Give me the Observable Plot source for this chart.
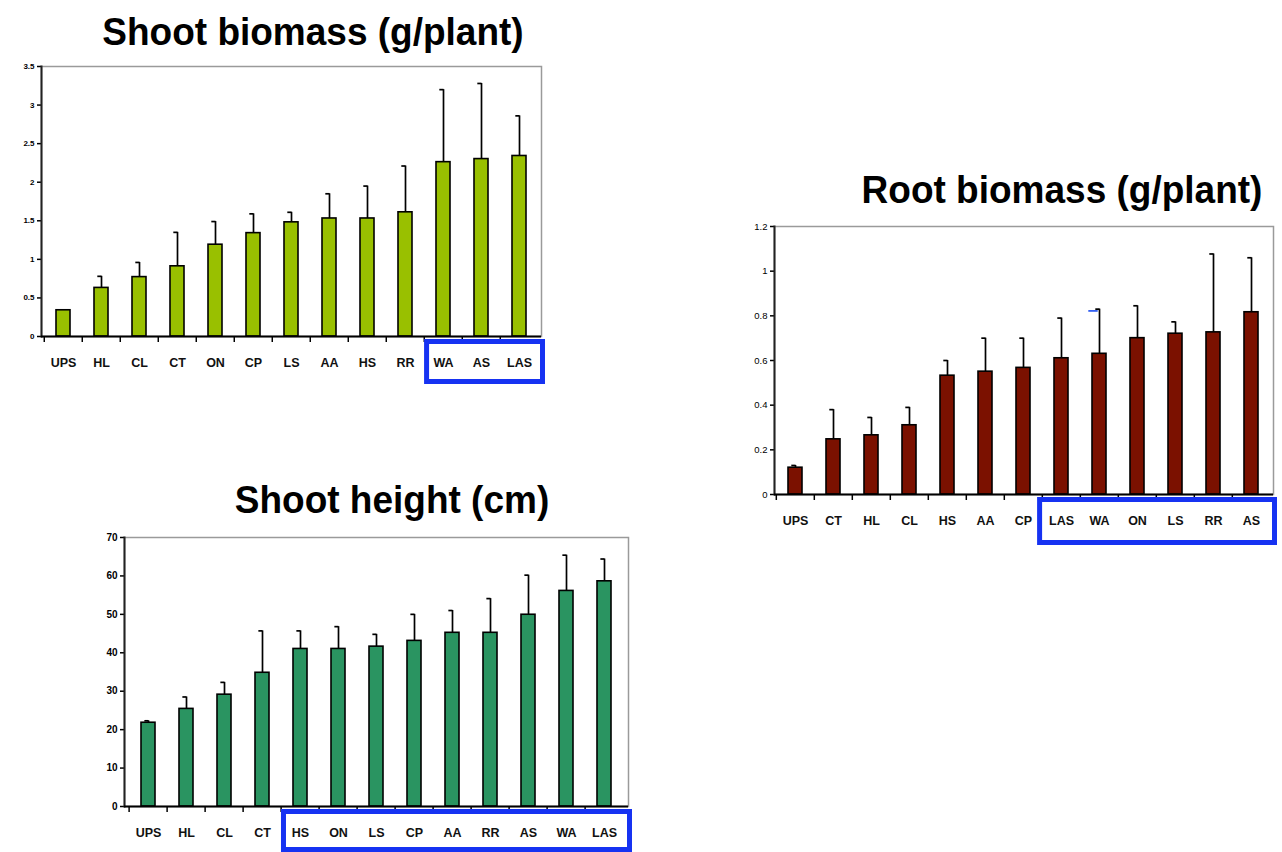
<!DOCTYPE html>
<html><head><meta charset="utf-8">
<script src="https://cdn.jsdelivr.net/npm/d3@7"></script>
<script src="https://cdn.jsdelivr.net/npm/@observablehq/plot@0.6"></script>
<style>
body{margin:0;background:#fff;width:1282px;height:852px;overflow:hidden;position:relative;font-family:"Liberation Sans",Arial,sans-serif;}
.title{position:absolute;font-weight:bold;font-size:37px;line-height:37px;white-space:nowrap;transform:translateX(-50%) scaleY(1.06);color:#000;}
.chart{position:absolute;}
</style></head><body>
<script>
// Shoot biomass (g/plant)
const shootBioCats = ["UPS","HL","CL","CT","ON","CP","LS","AA","HS","RR","WA","AS","LAS"];
const shootBioMean = [0.34,0.63,0.77,0.91,1.19,1.34,1.48,1.53,1.53,1.61,2.26,2.30,2.34];
const shootBioTop  = [0.34,0.78,0.96,1.35,1.49,1.59,1.61,1.85,1.95,2.21,3.20,3.28,2.86];
const shootBioTicks = [0,0.5,1,1.5,2,2.5,3,3.5];
const shootBioBoxed = ["WA","AS","LAS"];

// Root biomass (g/plant)
const rootBioCats = ["UPS","CT","HL","CL","HS","AA","CP","LAS","WA","ON","LS","RR","AS"];
const rootBioMean = [0.12,0.247,0.265,0.31,0.532,0.55,0.567,0.61,0.63,0.70,0.72,0.726,0.816];
const rootBioTop  = [0.13,0.38,0.345,0.39,0.60,0.70,0.70,0.79,0.83,0.845,0.773,1.077,1.06];
const rootBioTicks = [0,0.2,0.4,0.6,0.8,1,1.2];
const rootBioBoxed = ["LAS","WA","ON","LS","RR","AS"];
const rootBioStray = [{cat:"WA", y:0.822}];

// Shoot height (cm)
const heightCats = ["UPS","HL","CL","CT","HS","ON","LS","CP","AA","RR","AS","WA","LAS"];
const heightMean = [21.8,25.4,29.1,34.8,41.0,41.0,41.6,43.1,45.2,45.2,49.9,56.1,58.6];
const heightTop  = [22.3,28.5,32.3,45.7,45.7,46.8,44.8,50.0,51.0,54.1,60.2,65.4,64.4];
const heightTicks = [0,10,20,30,40,50,60,70];
const heightBoxed = ["HS","ON","LS","CP","AA","RR","AS","WA","LAS"];

function drawChart(cfg){
  const n = cfg.cats.length;
  const W = cfg.width - cfg.ml - cfg.mr;
  const step = W / n;
  const pad = 0.62;
  const bw = step * (1 - pad);
  const data = cfg.cats.map((c,i)=>({cat:c, v:cfg.vals[i], e:cfg.errs[i]}));
  const extra = cfg.stray ? [Plot.tickY(cfg.stray, {x:"cat", y:"y", stroke:"#1a4cf0", strokeWidth:1.6, insetLeft: bw/2 - 11, insetRight: bw/2 + 1})] : [];
  const chart = Plot.plot({
    width: cfg.width, height: cfg.height,
    marginLeft: cfg.ml, marginRight: cfg.mr, marginTop: cfg.mt, marginBottom: cfg.mb,
    style: {background:"transparent", fontFamily:"Liberation Sans, Arial, sans-serif", color:"#000", overflow:"visible"},
    x: {domain: cfg.cats, paddingInner: pad, paddingOuter: pad/2, label: null, axis: null},
    y: {domain: [cfg.ticks[0], cfg.ticks[cfg.ticks.length-1]], label: null, axis: null},
    marks: [
      Plot.frame({stroke:"#9a9a9a", strokeWidth:1.5}),
      Plot.ruleX(data, {x:"cat", y1:"v", y2:"e", stroke:"#000", strokeWidth:1.7}),
      Plot.tickY(data, {x:"cat", y:"e", stroke:"#000", strokeWidth:1.7, insetLeft: bw/2 - 4, insetRight: bw/2 - 0.8}),
      ...extra,
      Plot.barY(data, {x:"cat", y:"v", fill:cfg.color, stroke:"#000", strokeWidth:1.6}),
      Plot.axisY({ticks: cfg.ticks, tickFormat: d=>String(d), tickSize:4, tickPadding:3, fontSize: cfg.yFont, fontWeight: cfg.yWeight, strokeWidth:1.5}),
      Plot.axisX({tickSize:6, tickFormat: ()=>"", dx: -step/2, strokeWidth:1.5}),
      Plot.axisX({tickSize:0, tickPadding: 22, fontSize:12.5, fontWeight: "bold", fill:"#111"}),
      Plot.frame({anchor:"left", stroke:"#222", strokeWidth:2}),
      Plot.ruleY([cfg.ticks[0]], {stroke:"#000", strokeWidth:2})
    ]
  });
  // highlight box around selected category labels, positioned from the x scale
  const xs = chart.scale("x");
  const first = cfg.boxed[0];
  const x0 = xs.apply(first) - (step - bw)/2 + cfg.boxDx;
  const x1 = cfg.width - cfg.mr + 4;
  const yb = cfg.height - cfg.mb;
  d3.select(chart).append("rect")
    .attr("x", x0 + 2.5).attr("y", yb + 3 + 2.5)
    .attr("width", x1 - x0 - 5).attr("height", cfg.boxH - 5)
    .attr("fill", "none").attr("stroke", "#1632f2").attr("stroke-width", 5);
  const div = document.createElement("div");
  div.className = "chart";
  div.style.left = cfg.left + "px";
  div.style.top = cfg.top + "px";
  div.appendChild(chart);
  document.body.appendChild(div);
  const t = document.createElement("div");
  t.className = "title";
  t.textContent = cfg.title;
  t.style.left = cfg.titleX + "px";
  t.style.top = cfg.titleY + "px";
  document.body.appendChild(t);
}

drawChart({cats: shootBioCats, vals: shootBioMean, errs: shootBioTop, ticks: shootBioTicks, boxed: shootBioBoxed,
  color: "#99c000", title: "Shoot biomass (g/plant)", titleX: 313, titleY: 13,
  left: 0, top: 56, width: 560, height: 340, ml: 41, mr: 19, mt: 10, mb: 60, yFont: 8, yWeight: "bold", boxDx: 0, boxH: 45});
drawChart({cats: rootBioCats, vals: rootBioMean, errs: rootBioTop, ticks: rootBioTicks, boxed: rootBioBoxed, stray: rootBioStray,
  color: "#7b1100", title: "Root biomass (g/plant)", titleX: 1062, titleY: 171,
  left: 720, top: 216, width: 562, height: 340, ml: 54, mr: 9, mt: 10, mb: 62, yFont: 9.5, yWeight: "normal", boxDx: -5, boxH: 48});
drawChart({cats: heightCats, vals: heightMean, errs: heightTop, ticks: heightTicks, boxed: heightBoxed,
  color: "#2a9461", title: "Shoot height (cm)", titleX: 392, titleY: 481,
  left: 80, top: 527, width: 560, height: 325, ml: 44, mr: 12, mt: 10, mb: 46, yFont: 10, yWeight: "bold", boxDx: 0, boxH: 43});
</script>
</body></html>
